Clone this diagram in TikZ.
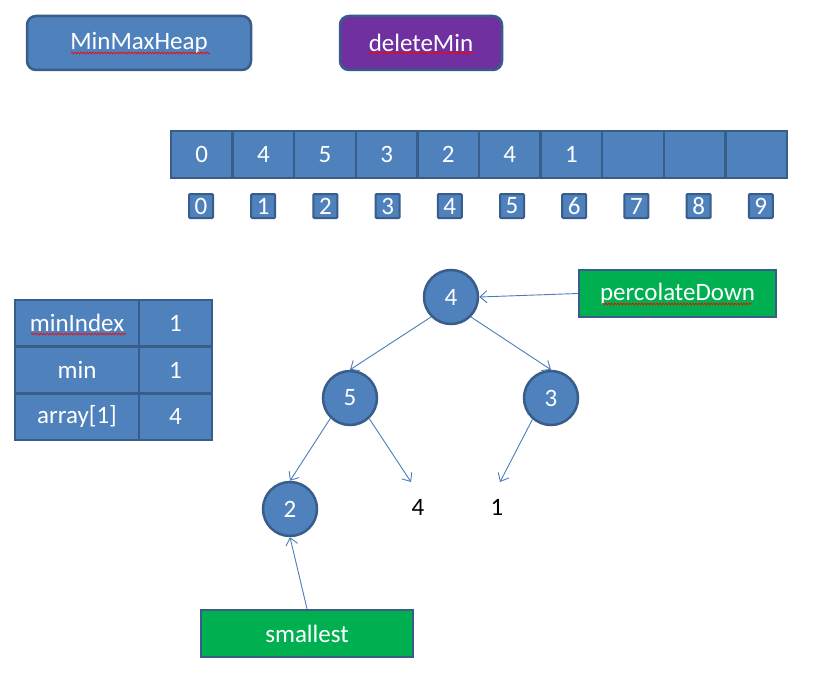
\documentclass[tikz,border=0pt]{standalone}
\usepackage{fontspec}
\setmainfont{Carlito}
\usetikzlibrary{arrows.meta,decorations.pathmorphing}
\definecolor{fillblue}{HTML}{4F81BD}
\definecolor{edgeblue}{HTML}{385D8A}
\definecolor{purp}{HTML}{7030A0}
\definecolor{grn}{HTML}{00B050}
\definecolor{linkblue}{HTML}{4A7EBB}
\begin{document}
\begin{tikzpicture}[x=1pt,y=-1pt,
  font=\fontsize{25}{29}\selectfont,
  btn/.style={draw=edgeblue, line width=2.5pt, rounded corners=9pt, text=white, minimum height=54pt, inner sep=0pt},
  cell/.style={draw=edgeblue, fill=fillblue, line width=2.5pt, minimum width=61.6pt, minimum height=47pt, text=white, inner sep=0pt},
  idx/.style={draw=edgeblue, fill=fillblue, line width=2pt, minimum size=24pt, text=white, inner sep=0pt, rounded corners=1pt},
  tcell/.style={draw=edgeblue, fill=fillblue, line width=2.5pt, minimum height=46.7pt, text=white, inner sep=0pt},
  circ/.style={circle, draw=edgeblue, fill=fillblue, line width=2.5pt, minimum size=54pt, text=white, inner sep=0pt},
  gbox/.style={draw=edgeblue, fill=grn, line width=2.5pt, minimum height=47pt, text=white, inner sep=0pt},
  leaf/.style={text=black, inner sep=0pt},
  arr/.style={draw=linkblue, line width=0.9pt, -{Straight Barb[length=7pt,width=12pt]}},
  wavy/.style={draw=red, line width=0.6pt, decorate, decoration={snake, amplitude=1pt, segment length=3pt}}
]
\useasboundingbox (0,0) rectangle (834,674);
\fill[white] (0,0) rectangle (834,674);

% top buttons
\node[btn, fill=fillblue, minimum width=224pt] (mmh) at (139,43) {MinMaxHeap};
\node[btn, fill=purp, minimum width=162pt] (dm) at (421,43) {deleteMin};
\draw[wavy] (71,53) -- (210,53);
\draw[wavy] (369,53) -- (473,53);

% array
\foreach \v [count=\i from 0] in {0,4,5,3,2,4,1,{},{},{}} {
  \pgfmathsetmacro{\cx}{171+61.6*(\i+0.5)}
  \node[cell] (c\i) at (\cx,154.5) {\v};
}
\foreach \i in {0,...,9} {
  \pgfmathsetmacro{\ix}{201+62.2*\i}
  \node[idx] (k\i) at (\ix,206) {\i};
}

% table
\node[tcell, minimum width=124pt] (t1a) at (77,323.3) {minIndex};
\node[tcell, minimum width=73pt] (t1b) at (175.5,323.3) {1};
\node[tcell, minimum width=124pt] (t2a) at (77,370) {min};
\node[tcell, minimum width=73pt] (t2b) at (175.5,370) {1};
\node[tcell, minimum width=124pt] (t3a) at (77,416.7) {array[1]};
\node[tcell, minimum width=73pt] (t3b) at (175.5,416.7) {4};
\draw[wavy] (31,334) -- (126,334);

% tree
\node[circ] (n4) at (451,297) {4};
\node[circ] (n5) at (350,398) {5};
\node[circ] (n3) at (551,398) {3};
\node[circ] (n2) at (290,509) {2};
\node[leaf] (l4) at (418,507) {4};
\node[leaf] (l1) at (497,507) {1};
\coordinate (a4) at (411,482);
\coordinate (a1) at (500,482);

\draw[arr] (n4.225) -- (n5.north);
\draw[arr] (n4.-45) -- (n3.north);
\draw[arr] (n5.226) -- (n2.north);
\draw[arr] (n5.-47) -- (a4);
\draw[arr] (n3.229) -- (a1);

% green labels
\node[gbox, minimum width=197pt] (pd) at (677.5,293.5) {percolateDown};
\draw[wavy] (602,304) -- (752,304);
\draw[arr] (pd.west) -- (n4.east);
\node[gbox, minimum width=212pt] (sm) at (307,633.5) {smallest};
\draw[arr] (sm.north) -- (n2.south);
\end{tikzpicture}
\end{document}
